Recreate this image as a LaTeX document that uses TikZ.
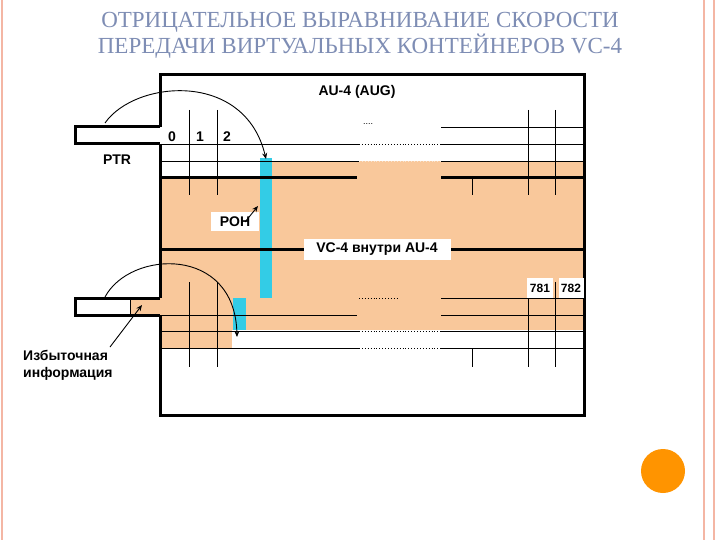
\documentclass[tikz,border=0pt]{standalone}
\usepackage{fontspec}
\setmainfont{Liberation Serif}
\newfontfamily\labfont{Liberation Sans}
\usetikzlibrary{arrows.meta}
\definecolor{peach}{HTML}{F9C89B}
\definecolor{cyanbar}{HTML}{33CCE6}
\definecolor{titlec}{HTML}{7E8DB4}
\definecolor{pinkb}{HTML}{F4B6A4}
\definecolor{dotc}{HTML}{F8E4D2}
\tikzset{thin line/.style={line width=0.9pt},
 thick line/.style={line width=3pt},
 lbl/.style={font=\labfont\bfseries\fontsize{14}{17}\selectfont, inner sep=1pt},
 wbox/.style={fill=white, font=\labfont\bfseries\fontsize{14}{17}\selectfont, inner sep=1pt},
 dotline/.style={line width=0.9pt, dotted},
 arr/.style={line width=0.9pt, -{Stealth[length=6pt,width=5pt]}}}
\begin{document}
\begin{tikzpicture}[x=1pt,y=-1pt]
\useasboundingbox (0,0) rectangle (720,540);
\fill[white] (0,0) rectangle (720,540);
% page decoration
\draw[pinkb, line width=1.5pt] (2,0) -- (2,540);
\draw[pinkb, line width=1.5pt] (704,0) -- (704,540);
\draw[pinkb, line width=1.5pt] (714,0) -- (714,540);
\fill[orange!80!red!70!yellow] (663,471) ellipse (22 and 22);
% title
\node[titlec, align=center, inner sep=0pt, font=\fontsize{23}{26}\selectfont] (title) at (360,35) {ОТРИЦАТЕЛЬНОЕ ВЫРАВНИВАНИЕ СКОРОСТИ\\ПЕРЕДАЧИ ВИРТУАЛЬНЫХ КОНТЕЙНЕРОВ VC-4};
% orange areas
\fill[peach] (272,161) rectangle (584,178);
\fill[peach] (160,178) rectangle (584,330);
\fill[peach] (160,330) rectangle (232,348);
\fill[peach] (130,298) rectangle (160,315);
% cyan bars
\fill[cyanbar] (260,158) rectangle (272,298);
\fill[cyanbar] (233,298) rectangle (246,330);
% horizontal lines
\draw[thin line] (441,127) -- (584,127);
\draw[thin line] (160,144) -- (359,144); \draw[dotline] (359,144) -- (441,144); \draw[thin line] (441,144) -- (584,144);
\draw[thin line] (160,161) -- (359,161); \draw[dotline,dotc] (359,161) -- (441,161); \draw[thin line] (441,161) -- (584,161);
\draw[thick line] (160,178) -- (357,178); \draw[thick line] (441,178) -- (584,178);
\draw[thick line] (160,249) -- (584,249);
\draw[dotline] (359,298) -- (398,298); \draw[thin line] (441,298) -- (584,298);
\draw[thin line] (160,315) -- (357,315); \draw[thin line] (441,315) -- (584,315);
\draw[thin line] (160,331) -- (359,331); \draw[dotline] (359,331) -- (441,331); \draw[thin line] (441,331) -- (584,331);
\draw[thin line] (160,348) -- (359,348); \draw[dotline] (359,348) -- (441,348); \draw[thin line] (441,348) -- (584,348);
\node[font=\labfont\fontsize{9}{10}\selectfont] (dots) at (368,124) {....};
% vertical lines
\foreach \x in {189,217,528,555}{
 \draw[thin line] (\x,110) -- (\x,195);
 \draw[thin line] (\x,282) -- (\x,367);}
\draw[thin line] (472,179) -- (472,195);
\draw[thin line] (472,349) -- (472,367);
% frame
\draw[thick line] (160,127) -- (160,75) -- (584,75) -- (584,415) -- (160,415) -- (160,315);
\draw[thick line] (160,144) -- (160,298);
% tabs
\draw[thick line] (160,127) -- (75,127) -- (75,144) -- (160,144);
\draw[thick line] (160,298) -- (75,298) -- (75,315) -- (160,315);
\draw[thin line] (130,298) -- (130,315);
% labels
\node[lbl] (au4) at (357,92) {AU-4 (AUG)};
\node[lbl] (c0) at (172,137) {0};
\node[lbl] (c1) at (200,137) {1};
\node[lbl] (c2) at (227,137) {2};
\node[lbl] (ptr) at (117,160) {PTR};
\node[wbox, minimum width=48pt, minimum height=19pt] (poh) at (235,222) {POH};
\node[wbox, minimum width=147pt, minimum height=21pt] (vc4) at (377,249) {VC-4 внутри AU-4};
\node[wbox, minimum width=26pt, minimum height=20pt, font=\labfont\bfseries\fontsize{12}{14}\selectfont] (n781) at (540,288) {781};
\node[wbox, minimum width=25pt, minimum height=20pt, font=\labfont\bfseries\fontsize{12}{14}\selectfont] (n782) at (571,288) {782};
\node[lbl, align=left, anchor=north west] (izb) at (22,349) {Избыточная\\информация};
% arrows
\coordinate (p1s) at (105,123);
\coordinate (p1e) at (266,159);
\draw[arr] (p1s) .. controls (135,80) and (245,70) .. (p1e);
\coordinate (p2s) at (105,297);
\coordinate (p2e) at (237,337);
\draw[arr] (p2s) .. controls (130,250) and (235,245) .. (p2e);
\coordinate (pohtip) at (258,206);
\draw[arr] (245,222) -- (pohtip);
\coordinate (izbtip) at (142,305);
\coordinate (izbs) at (110,347);
\draw[arr] (izbs) -- (izbtip);
\end{tikzpicture}
\end{document}
